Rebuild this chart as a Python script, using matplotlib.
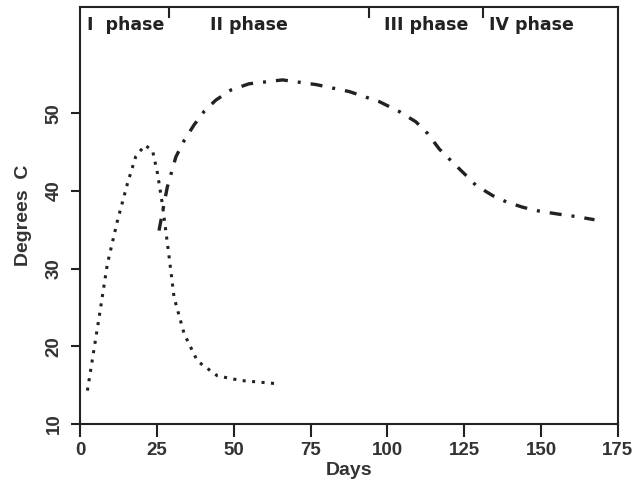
import matplotlib
matplotlib.use('Agg')
import matplotlib.pyplot as plt

# dotted curve (phase I temperature peak)
dottedDays = [2.4, 4.3, 6.2, 8.9, 12.2, 15.4, 18.1, 21.1, 23.6, 25.2, 26.8, 29.0,
              30.6, 33.9, 38.2, 44.7, 52.3, 63.7]
dottedTemp = [14.3, 19.0, 23.7, 30.6, 36.2, 40.9, 44.4, 45.9, 45.2, 42.3, 38.3, 31.5,
              26.3, 21.6, 18.1, 16.2, 15.6, 15.2]

# dash-dot curve
dashDays = [25.7, 28.4, 31.2, 33.9, 37.1, 40.5, 44.2, 49.1, 55.0, 65.9, 76.8, 87.6,
            97.4, 104.0, 109.3, 113.1, 116.9, 120.7, 125.1, 128.9, 134.3, 138.7,
            144.1, 149.5, 156.0, 161.5, 167.4]
dashTemp = [34.9, 40.5, 44.4, 46.5, 48.5, 50.3, 51.7, 53.0, 53.8, 54.3, 53.7, 52.8,
            51.5, 50.2, 48.9, 47.4, 45.4, 43.9, 42.2, 40.7, 39.4, 38.6,
            37.9, 37.4, 37.0, 36.7, 36.3]

phaseBounds = [29, 94, 131]
phaseLabels = ['I  phase', 'II phase', 'III phase', 'IV phase']
phaseLabelDays = [2.2, 42.3, 99.0, 133.2]

xTicks = [0, 25, 50, 75, 100, 125, 150, 175]
yTicks = [10, 20, 30, 40, 50]

textColor = '#333333'
lineColor = '#222222'

fig = plt.figure(figsize=(6.35, 4.93), dpi=100)
ax = fig.add_axes([0.126, 0.140, 0.847, 0.846])

ax.plot(dottedDays, dottedTemp, color=lineColor, linewidth=2.2,
        linestyle=(0, (1, 2.1)), dash_capstyle='butt')
ax.plot(dashDays, dashTemp, color=lineColor, linewidth=2.4,
        linestyle=(0, (3.6, 3.0, 0.9, 3.0)), dash_capstyle='butt')

for bound in phaseBounds:
    ax.axvline(bound, ymin=0.975, ymax=1.0, color=lineColor, linewidth=1.5)

for label, day in zip(phaseLabels, phaseLabelDays):
    ax.text(day, 0.957, label, transform=ax.get_xaxis_transform(),
            fontsize=12.5, fontweight='bold', family='DejaVu Sans',
            color='#222222', ha='left', va='center')

ax.set_xlim(0, 175)
ax.set_ylim(10, 63.7)
ax.set_xticks(xTicks)
ax.set_yticks(yTicks)

for spine in ax.spines.values():
    spine.set_linewidth(1.5)
    spine.set_color(lineColor)

ax.tick_params(axis='x', length=9, width=1.5, color=lineColor, pad=4)
ax.tick_params(axis='y', length=6.5, width=1.5, color=lineColor, pad=6)

for lbl in ax.get_xticklabels():
    lbl.set_fontsize(13.5)
    lbl.set_fontweight('bold')
    lbl.set_family('Liberation Sans')
    lbl.set_color(textColor)
for lbl in ax.get_yticklabels():
    lbl.set_fontsize(13.5)
    lbl.set_fontweight('bold')
    lbl.set_family('Liberation Sans')
    lbl.set_color(textColor)
    lbl.set_rotation(90)
    lbl.set_va('center')

ax.set_xlabel('Days', fontsize=14, fontweight='bold', family='Liberation Sans',
              color=textColor, labelpad=2)
ax.set_ylabel('Degrees  C', fontsize=14, fontweight='bold', family='Liberation Sans',
              color=textColor, labelpad=10)

fig.savefig('out.png', dpi=100)
